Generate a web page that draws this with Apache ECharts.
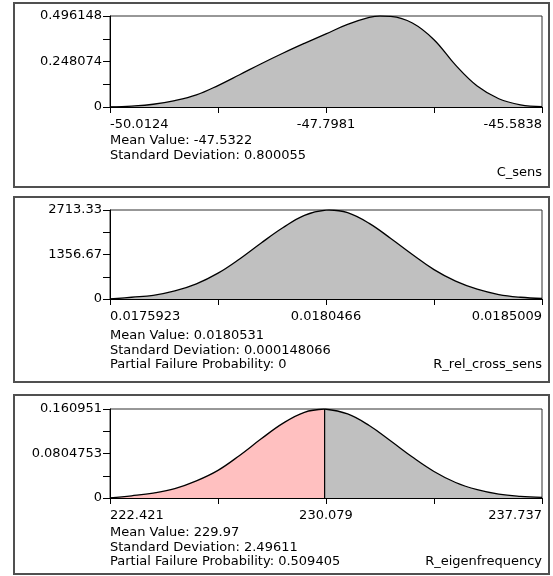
<!DOCTYPE html>
<html>
<head>
<meta charset="utf-8">
<script src="https://cdn.jsdelivr.net/npm/echarts@6/dist/echarts.min.js"></script>
<style>
html,body{margin:0;padding:0;background:#fff;}
#c{width:553px;height:576px;}
</style>
</head>
<body>
<div id="c"></div>
<script>
// ---------- Panel 1: C_sens ----------
const p1X = [-50.0124,-49.7910,-49.5695,-49.3481,-49.1267,-48.9053,-48.6838,-48.4624,-48.2410,-48.0195,-47.7981,-47.5767,-47.3552,-47.2445,-47.1338,-46.9124,-46.6910,-46.4695,-46.2481,-46.0267,-45.8052,-45.5838];
const p1Y = [0.0,0.005,0.015,0.035,0.066,0.117,0.176,0.236,0.293,0.347,0.399,0.450,0.488,0.496148,0.494,0.458,0.367,0.228,0.114,0.045,0.012,0.002];
const p1XLabels = ['-50.0124','-47.7981','-45.5838'];
const p1XTicks = [-50.0124,-48.90525,-47.7981,-46.69095,-45.5838];
const p1YLabels = ['0','0.248074','0.496148'];
const p1Text = ['Mean Value: -47.5322','Standard Deviation: 0.800055'];
const p1Name = 'C_sens';

// ---------- Panel 2: R_rel_cross_sens ----------
const p2X = [0.0175923,0.0176377,0.0176832,0.0177286,0.0177740,0.0178195,0.0178649,0.0179103,0.0179557,0.0180012,0.0180466,0.0180531,0.0180920,0.0181375,0.0181829,0.0182283,0.0182738,0.0183192,0.0183646,0.0184100,0.0184555,0.0185009];
const p2Y = [0,54,109,244,461,787,1221,1709,2171,2551,2710,2713.33,2632,2306,1845,1357,895,543,298,136,54,16];
const p2XLabels = ['0.0175923','0.0180466','0.0185009'];
const p2XTicks = [0.0175923,0.01781945,0.0180466,0.01827375,0.0185009];
const p2YLabels = ['0','1356.67','2713.33'];
const p2Text = ['Mean Value: 0.0180531','Standard Deviation: 0.000148066','Partial Failure Probability: 0'];
const p2Name = 'R_rel_cross_sens';

// ---------- Panel 3: R_eigenfrequency ----------
const p3XLeft = [222.421,223.187,223.953,224.718,225.484,226.250,227.016,227.782,228.547,229.313,230.03];
const p3YLeft = [0.0,0.004,0.009,0.017,0.031,0.050,0.077,0.107,0.135,0.155,0.160951];
const p3XRight = [230.03,230.845,231.611,232.376,233.142,233.908,234.674,235.440,236.205,236.971,237.737];
const p3YRight = [0.160951,0.152,0.131,0.103,0.074,0.048,0.028,0.015,0.007,0.003,0.001];
const p3Limit = 230.03;
const p3XLabels = ['222.421','230.079','237.737'];
const p3XTicks = [222.421,226.25,230.079,233.908,237.737];
const p3YLabels = ['0','0.0804753','0.160951'];
const p3Text = ['Mean Value: 229.97','Standard Deviation: 2.49611','Partial Failure Probability: 0.509405'];
const p3Name = 'R_eigenfrequency';

const FONT = 'DejaVu Sans';
const FS = 13;
const GREY = '#C0C0C0';
const PINK = '#FFC0C0';

function pairs(xs, ys){ return xs.map((v,i)=>[v, ys[i]]); }
function nearestLabel(labels){
  const vals = labels.map(Number);
  return function(v){
    let bi=0, bd=Infinity;
    vals.forEach((w,i)=>{ const d=Math.abs(w-v); if(d<bd){bd=d;bi=i;} });
    return labels[bi];
  };
}

const grids = [
  {left:110, top:16, width:432, height:91},
  {left:110, top:210, width:432, height:89},
  {left:110, top:409, width:432, height:89}
].map(g=>Object.assign(g,{show:true, borderColor:'#303030', borderWidth:1, containLabel:false}));

const panels = [
  {xl:p1XLabels, xt:p1XTicks, yl:p1YLabels},
  {xl:p2XLabels, xt:p2XTicks, yl:p2YLabels},
  {xl:p3XLabels, xt:p3XTicks, yl:p3YLabels}
];

const xAxes = panels.map((p,i)=>({
  type:'value', gridIndex:i,
  min:Number(p.xl[0]), max:Number(p.xl[2]),
  axisLine:{show:true, onZero:false, lineStyle:{color:'#000', width:1}},
  axisTick:{show:true, length:6, customValues:p.xt, lineStyle:{color:'#000'}},
  axisLabel:{show:true, customValues:p.xl.map(Number), formatter:nearestLabel(p.xl),
    alignMinLabel:'left', alignMaxLabel:'right',
    margin:11, color:'#000', fontFamily:FONT, fontSize:FS},
  splitLine:{show:false}
}));

const yAxes = panels.map((p,i)=>{
  const mx = Number(p.yl[2]);
  return {
    type:'value', gridIndex:i, min:0, max:mx,
    axisLine:{show:true, lineStyle:{color:'#000'}},
    axisTick:{show:true, length:7, customValues:[0,mx/4,mx/2,mx*3/4,mx], lineStyle:{color:'#000'}},
    axisLabel:{show:true, customValues:p.yl.map(Number), formatter:nearestLabel(p.yl),
      margin:8, color:'#000', fontFamily:FONT, fontSize:FS},
    splitLine:{show:false}
  };
});

function curve(i, data, fill){
  return {type:'line', xAxisIndex:i, yAxisIndex:i, data:data, smooth:0.4, symbol:'none',
    lineStyle:{color:'#000', width:1.3}, areaStyle:{color:fill, opacity:1}, silent:true, z:3};
}

const series = [
  curve(0, pairs(p1X,p1Y), GREY),
  curve(1, pairs(p2X,p2Y), GREY),
  curve(2, pairs(p3XLeft,p3YLeft), PINK),
  curve(2, pairs(p3XRight,p3YRight), GREY),
  {type:'line', xAxisIndex:2, yAxisIndex:2, data:[[p3Limit,0],[p3Limit,Number(p3YLabels[2])]],
   symbol:'none', lineStyle:{color:'#000', width:1.2}, silent:true, z:4}
];

// outer panel frames and text
const frames = [
  {x:14, y:3, w:535, h:184},
  {x:14, y:197, w:535, h:185},
  {x:14, y:395, w:535, h:179}
];
const textBlocks = [
  {lines:p1Text, y0:141, name:p1Name, ny:173},
  {lines:p2Text, y0:336, name:p2Name, ny:365},
  {lines:p3Text, y0:533, name:p3Name, ny:562}
];
const graphic = [];
frames.forEach(f=>graphic.push({type:'rect', shape:{x:f.x, y:f.y, width:f.w, height:f.h},
  style:{fill:'none', stroke:'#505050', lineWidth:2}, silent:true}));
textBlocks.forEach(t=>{
  t.lines.forEach((s,k)=>graphic.push({type:'text', x:110, y:t.y0 + k*14.5,
    style:{text:s, fill:'#000', fontFamily:FONT, fontSize:FS, textAlign:'left', textVerticalAlign:'middle'}}));
  graphic.push({type:'text', x:542, y:t.ny,
    style:{text:t.name, fill:'#000', fontFamily:FONT, fontSize:FS, textAlign:'right', textVerticalAlign:'middle'}});
});

const chart = echarts.init(document.getElementById('c'), null, {renderer:'canvas'});
chart.setOption({
  animation:false,
  backgroundColor:'#fff',
  grid:grids, xAxis:xAxes, yAxis:yAxes, series:series, graphic:graphic
});
</script>
</body>
</html>
